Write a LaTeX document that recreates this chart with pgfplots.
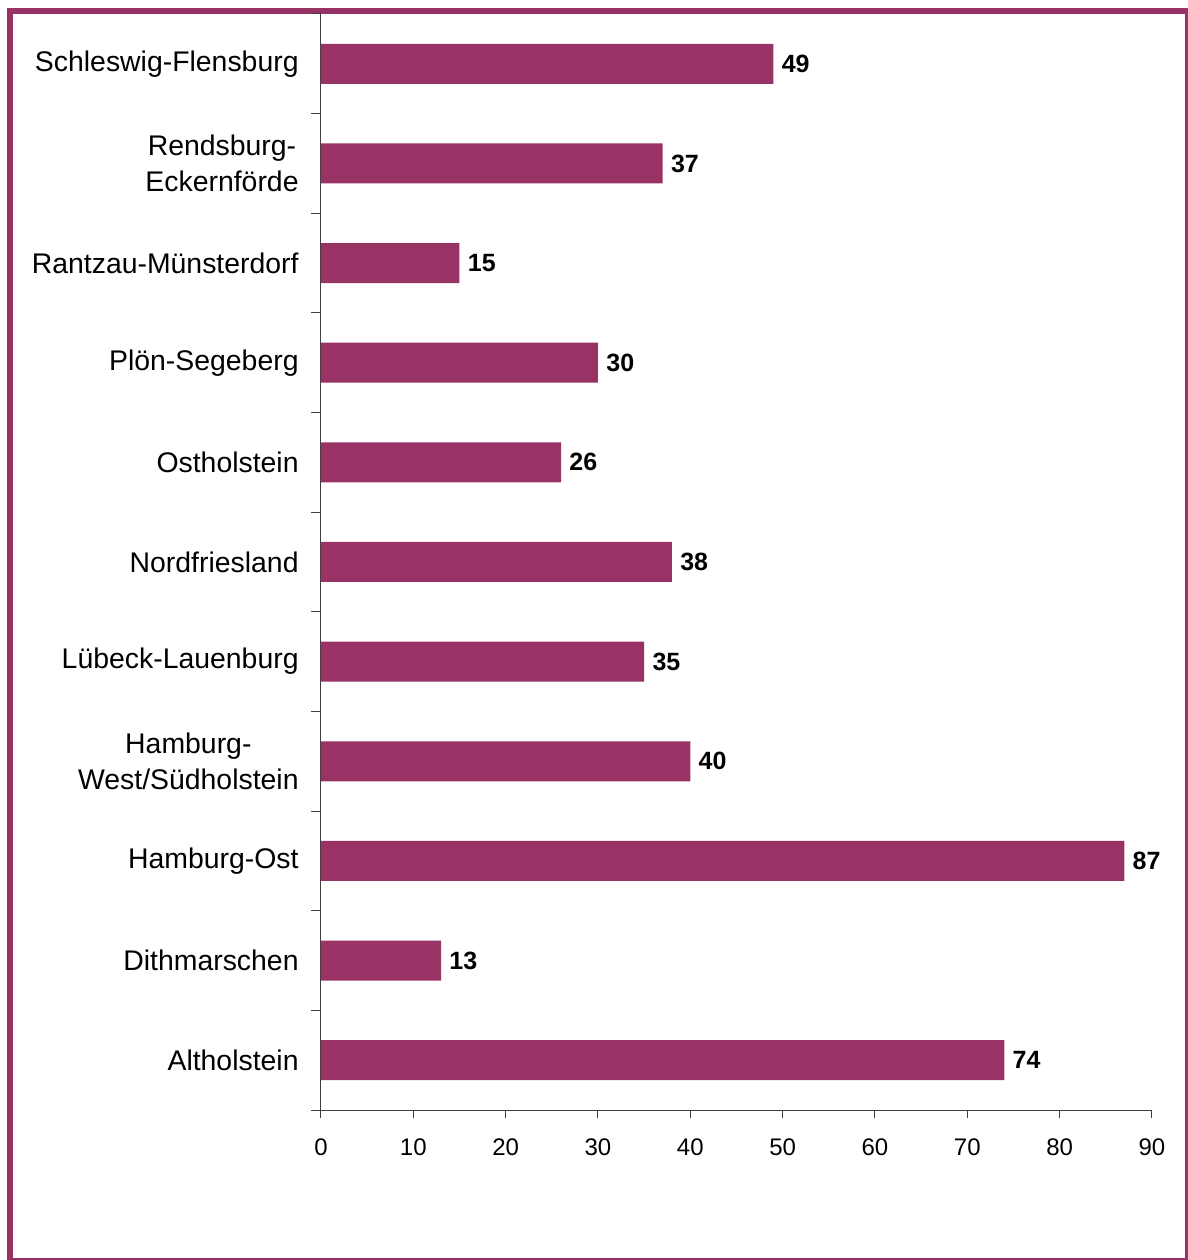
\documentclass[border=0pt]{standalone}
\usepackage{pgfplots}
\pgfplotsset{compat=1.18}
\usepackage{fontspec}
\setmainfont{Liberation Sans}
\definecolor{plum}{HTML}{993366}
\begin{document}
\begin{tikzpicture}
\useasboundingbox (0,0) rectangle (594pt,630pt);
\draw[plum, line width=3pt] (5pt,-0.5pt) rectangle (594pt,624.5pt);
\begin{axis}[
  at={(160.5pt,75pt)}, anchor=south west,
  scale only axis, width=415.5pt, height=548pt,
  xbar, bar width=20pt,
  xmin=0, xmax=90, ymin=-0.5, ymax=10.5,
  axis x line=bottom, axis y line=left,
  axis line style={-, black!75, line width=0.5pt},
  xtick={0,10,...,90},
  tick align=outside,
  major tick length=4pt,
  minor tick length=5pt,
  every tick/.style={black!75, line width=0.5pt},
  ytick={0,...,10},
  minor ytick={-0.5,0.5,...,10.5},
  ytick style={draw=none},
  minor y tick style={draw=black!75},
  yticklabels={Altholstein,Dithmarschen,Hamburg-Ost,{Hamburg-\\West/Südholstein},L\"ubeck-Lauenburg,Nordfriesland,Ostholstein,Plön-Segeberg,Rantzau-Münsterdorf,{Rendsburg-\\Eckernförde},Schleswig-Flensburg},
  yticklabel style={align=center, font=\fontsize{14.2}{18}\selectfont, inner sep=0pt, xshift=-7pt},
  xticklabel style={font=\fontsize{12}{14}\selectfont, inner sep=0pt, yshift=-10pt},
  /pgf/number format/assume math mode=true,
  nodes near coords,
  nodes near coords style={font=\bfseries\fontsize{12.5}{14}\selectfont, anchor=west, inner sep=0pt, xshift=4pt, black},
  point meta=explicit symbolic,
]
\addplot[fill=plum, draw=none] table[meta=v] {
x y v
74 0 74
13 1 13
87 2 87
40 3 40
35 4 35
38 5 38
26 6 26
30 7 30
15 8 15
37 9 37
49 10 49
};
\end{axis}
\end{tikzpicture}
\end{document}
